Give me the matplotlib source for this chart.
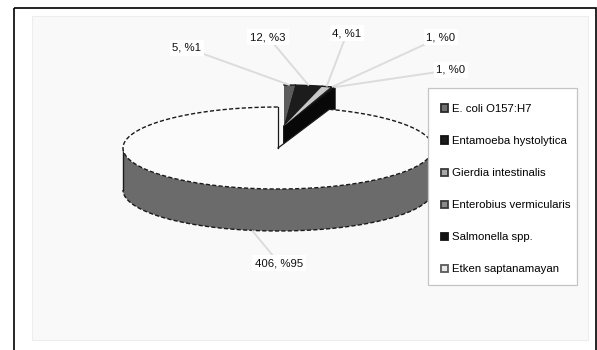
import numpy as np
import matplotlib
matplotlib.use("Agg")
import matplotlib.pyplot as plt
from matplotlib.patches import Polygon, Rectangle, Patch

plt.rcParams['font.family'] = ['Liberation Sans', 'DejaVu Sans']

# Data
categories = ["E. coli O157:H7", "Entamoeba hystolytica", "Gierdia intestinalis",
              "Enterobius vermicularis", "Salmonella spp.", "Etken saptanamayan"]
counts = [5, 12, 4, 1, 1, 406]

# Styling per slice: top face colour, side colour, legend colours
top_colors = ["#5c5c5c", "#1c1c1c", "#c8c8c8", "#2a2a2a", "#111111", "#fbfbfb"]
side_colors = ["#2e2e2e", "#0d0d0d", "#3a3a3a", "#1a1a1a", "#080808", "#6b6b6b"]
legend_faces = ["#707070", "#1c1c1c", "#a8a8a8", "#8a8a8a", "#111111", "#e8e8e8"]
legend_edges = ["#2a2a2a", "#111111", "#3a3a3a", "#3a3a3a", "#111111", "#5a5a5a"]

# Layout of the pseudo-3D pie (pixel units)
cx, cy = 278.0, 148.0
rx, ry = 155.0, 41.0
depth = 42.0
small_offset = (6.0, -22.0)  # small slices pulled out backwards as a group

# Label positions
label_pos = [(187, 48), (268, 37), (347, 33), (441, 37), (451, 70), (279, 263)]

W, H = 597, 350
fig = plt.figure(figsize=(W / 100, H / 100), dpi=100)
ax = fig.add_axes([0, 0, 1, 1])
ax.set_xlim(0, W)
ax.set_ylim(H, 0)
ax.axis("off")

# Frame and plot area
ax.add_patch(Rectangle((14, 8), 582, 360, fill=False, edgecolor="black", lw=1.2, zorder=0))
ax.add_patch(Rectangle((32, 16), 556, 324, facecolor="#f9f9f9", edgecolor="#ededed",
                       lw=0.8, zorder=0.5))


def pt(theta, off=(0.0, 0.0), z=0.0):
    t = np.radians(theta)
    return (cx + off[0] + rx * np.sin(t), cy + off[1] - ry * np.cos(t) + z)


def arc(t1, t2, off=(0.0, 0.0), z=0.0, n=None):
    if n is None:
        n = max(2, int(abs(t2 - t1) * 2) + 2)
    ts = np.linspace(t1, t2, n)
    return [pt(t, off, z) for t in ts]


total = float(sum(counts))
angles = np.cumsum([0] + [360.0 * c / total for c in counts])

edge_kw = dict(color="#1a1a1a", lw=1.0)
dash = (0, (3.0, 1.6))

anchors = []
for i, c in enumerate(counts):
    t1, t2 = angles[i], angles[i + 1]
    mid = 0.5 * (t1 + t2)
    big = c / total > 0.5
    off = (0.0, 0.0) if big else small_offset
    zb = 2 if not big else 4
    ctr = (cx + off[0], cy + off[1])
    ctr_b = (ctr[0], ctr[1] + depth)

    # radial face on the clockwise end, visible when it faces the viewer
    if not big and 0 < t2 < 180:
        face = [ctr, pt(t2, off), pt(t2, off, depth), ctr_b]
        ax.add_patch(Polygon(face, closed=True, facecolor=side_colors[i],
                             edgecolor="#111111", lw=0.6, zorder=zb + i * 0.01))

    # outer wall on the front half of the ellipse
    w1, w2 = max(t1, 90.0), min(t2, 270.0)
    if w2 > w1:
        top_arc = arc(w1, w2, off)
        bot_arc = arc(w1, w2, off, depth)
        ax.add_patch(Polygon(top_arc + bot_arc[::-1], closed=True,
                             facecolor=side_colors[i], edgecolor="none", zorder=zb))
        xs, ys = zip(*bot_arc)
        ax.plot(xs, ys, linestyle=dash, zorder=zb + 0.5, **edge_kw)
        for t in (w1, w2):
            a, b = pt(t, off), pt(t, off, depth)
            ax.plot([a[0], b[0]], [a[1], b[1]], zorder=zb + 0.5, **edge_kw)

    # top face
    top = [ctr] + arc(t1, t2, off)
    ax.add_patch(Polygon(top, closed=True, facecolor=top_colors[i],
                         edgecolor="none", zorder=zb + 0.6 + i * 0.01))
    xs, ys = zip(*arc(t1, t2, off))
    ax.plot(xs, ys, linestyle=dash if big else "-", zorder=zb + 0.7, **edge_kw)
    if big:
        for t in (t1, t2):
            p = pt(t, off)
            ax.plot([ctr[0], p[0]], [ctr[1], p[1]], zorder=zb + 0.7,
                    color="#1a1a1a", lw=0.9)

    if big:
        anchors.append(pt(mid, off, depth))
    else:
        anchors.append(pt(mid, off))

# Data labels with leader lines
for i, c in enumerate(counts):
    pct = int(round(100 * c / total))
    lx, ly = label_pos[i]
    ax_, ay_ = anchors[i]
    ax.plot([lx, ax_], [ly, ay_], color="#dcdcdc", lw=1.4, zorder=6,
            solid_capstyle="butt")
    ax.text(lx, ly, f"{c}, %{pct}", ha="center", va="center", fontsize=8.2,
            color="#111111", zorder=7,
            bbox=dict(boxstyle="square,pad=0.25", facecolor="white", edgecolor="none"))

# Legend box
ax.add_patch(Rectangle((428, 88), 149, 197, facecolor="white", edgecolor="#c4c4c4",
                       lw=0.9, zorder=9))

handles = [Patch(facecolor=legend_faces[i], edgecolor=legend_edges[i], lw=1.3)
           for i in range(len(categories))]
leg = fig.legend(handles, categories, loc="upper left",
                 bbox_to_anchor=(441 / W, 1 - 104 / H), borderaxespad=0,
                 fontsize=8.2, frameon=False,
                 handlelength=0.6, handleheight=0.6, handletextpad=0.35,
                 labelspacing=1.94, borderpad=0)
leg.set_zorder(10)

fig.savefig("out.png", dpi=100, facecolor="white")
